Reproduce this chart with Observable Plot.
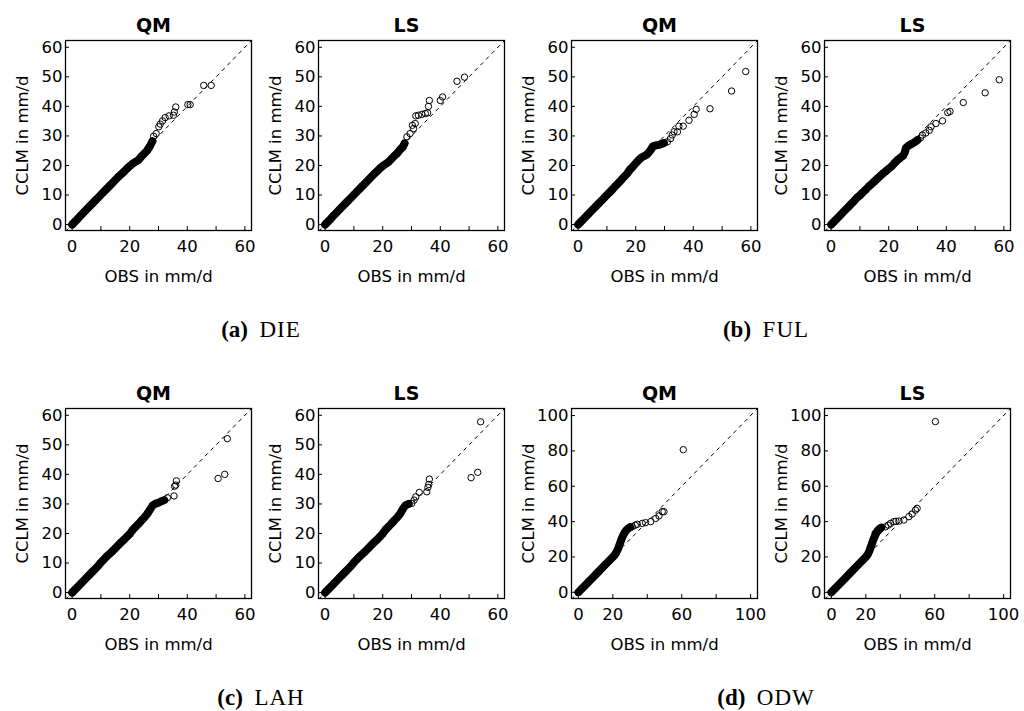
<!DOCTYPE html>
<html>
<head>
<meta charset="utf-8">
<script src="https://cdn.jsdelivr.net/npm/d3@7"></script>
<script src="https://cdn.jsdelivr.net/npm/@observablehq/plot@0.6"></script>
<style>
  html, body { margin: 0; padding: 0; background: #fff; }
  #root { position: relative; width: 1024px; height: 711px; overflow: hidden; }
  .panel { position: absolute; }
  .caption { position: absolute; font-family: "Liberation Serif", serif; font-size: 23px; color: #000;
             transform: translateX(-50%); white-space: nowrap; line-height: 1; }
  .caption b { font-weight: bold; }
  .caption span { letter-spacing: 1px; }
</style>
</head>
<body>
<div id="root"></div>
<script>
// ---------------- data ----------------
const stations = ["DIE", "FUL", "LAH", "ODW"];
const captionLetters = ["(a)", "(b)", "(c)", "(d)"];
const methods = ["QM", "LS"];
const xLabel = "OBS in mm/d";
const yLabel = "CCLM in mm/d";

// axis ranges / ticks per station
const stationScale = [60, 60, 60, 100];
const ticks60 = [0, 10, 20, 30, 40, 50, 60];
const xTickLabels60 = [0, 20, 40, 60];
const ticks100 = [0, 20, 40, 60, 80, 100];
const xTickLabels100 = [0, 20, 60, 100];
const xLimits60 = [-2.3, 62.3];
const yLimits60 = [-2.0, 62.3];
const xLimits100 = [-4, 104];
const yLimits100 = [-3.5, 104];

// quantile pairs (OBS, CCLM) for each station / method
const DIE_QM_obs  = [0,1,2,3,4,5,6,7,8,9,10,11,12,13,14,15,16,17,18,19,20,21,22,23,24,25,26,27,27.9,
                     28.3,29.2,30.1,30.6,31.4,32.3,33.7,35.2,35.5,36.0,40.2,41.0,45.7,48.3];
const DIE_QM_cclm = [0,1,2,3.1,4.1,5.1,6.1,7.1,8.1,9.1,10.1,11.1,12.1,13.1,14.1,15.1,16.1,17.0,17.9,18.9,19.8,20.6,21.2,21.8,23.0,24.0,25.0,26.5,28.2,
                     29.9,30.8,33.1,34.0,35.1,36.2,36.8,37.0,38.1,39.8,40.6,40.6,47.1,47.1];

const DIE_LS_obs  = [0,1,2,3,4,5,6,7,8,9,10,11,12,13,14,15,16,17,18,19,20,21,22,23,24,25,26,27,27.6,
                     28.4,29.5,30.3,30.7,31.3,31.5,32.4,33.6,34.8,35.6,35.9,36.2,40.0,40.8,45.8,48.4];
const DIE_LS_cclm = [0,1,2,3.1,4.1,5.1,6.1,7.1,8.1,9.1,10.1,11.1,12.1,13.1,14.1,15.1,16.1,17.1,18.0,19.0,19.8,20.5,21.2,22.2,23.2,24.1,25.3,26.3,27.5,
                     29.7,30.8,33.6,32.5,34.2,36.8,37.0,37.3,37.6,37.8,40.0,42.0,42.0,43.2,48.5,49.9];

const FUL_QM_obs  = [0,1,2,3,4,5,6,7,8,9,10,11,12,13,14,15,16,17,18,19,20,21,22,23,24,25,26,27,28,29,29.8,
                     31.0,32.1,32.7,33.3,34.5,35.0,36.5,38.5,40.3,41.0,45.8,53.3,58.2];
const FUL_QM_cclm = [0,1,2,3,4,5,6,7,8,9,10.0,11.0,12.0,13.1,14.1,15.1,16.2,17.2,18.6,19.6,20.7,21.8,22.7,23.2,23.8,25.0,26.5,26.8,27.0,27.3,27.6,
                     28.0,29.1,30.3,31.4,31.4,33.3,33.3,35.3,37.3,39.0,39.2,45.2,51.8];

const FUL_LS_obs  = [0,1,2,3,4,5,6,7,8,9,10,11,12,13,14,15,16,17,18,19,20,21,22,23,24,25,25.6,26,27,28,29,30,
                     31.0,31.7,32.9,34.1,34.7,36.4,38.7,40.5,41.3,45.9,53.5,58.4];
const FUL_LS_cclm = [0,1,2,3,4,5,6,7,8,9.1,9.9,10.9,11.8,12.8,13.7,14.6,15.5,16.4,17.3,18.1,18.9,19.7,20.8,21.8,22.6,23.3,24.5,26.0,26.8,27.3,27.9,28.6,
                     29.3,30.3,31.0,31.9,33.1,34.2,35.1,37.9,38.3,41.3,44.6,49.0];

const LAH_QM_obs  = [0,1,2,3,4,5,6,7,8,9,10,11,12,13,14,15,16,17,18,19,20,21,22,23,24,25,26,27,28,29,30,31,32,
                     33.1,35.4,35.6,36.0,36.2,50.7,53.0,53.9];
const LAH_QM_cclm = [0,1,2,3,4,5,6,7,8,9,10.2,11.2,12.2,13.1,14.0,15.0,16.0,17.0,17.9,18.9,19.8,21.2,22.2,23.2,24.3,25.3,26.5,28.0,29.5,30.1,30.4,30.9,31.3,
                     32.1,32.7,36.0,36.4,37.8,38.6,40.0,52.1];

const LAH_LS_obs  = [0,1,2,3,4,5,6,7,8,9,10,11,12,13,14,15,16,17,18,19,20,21,22,23,24,25,26,27,28,29,
                     30.1,30.9,31.5,32.7,35.3,35.7,36.0,36.2,50.7,53.0,54.0];
const LAH_LS_cclm = [0,1,2,3,4,5,6,7,8,9,10.2,11.2,12.2,13.1,14.0,15.0,16.0,17.0,17.9,18.9,19.9,21.3,22.3,23.3,24.4,25.4,26.6,28.3,29.6,30.0,
                     30.2,31.3,32.4,33.9,34.1,35.6,36.6,38.4,38.9,40.7,57.8];

const ODW_QM_obs  = [0,2,4,6,8,10,12,14,16,18,20,21,22,23,24,25,26,27,28,29,30,
                     31.3,33.0,34.2,37.1,39.0,42.0,44.9,46.8,48.7,49.7,60.9];
const ODW_QM_cclm = [0,2,4,6,8,10,12,14,16,18,20,21,22.5,24.5,27.3,30.0,32.3,34.0,35.3,36.2,36.8,
                     37.1,38.0,38.5,39.0,39.4,40.0,41.8,43.2,45.6,45.6,80.7];

const ODW_LS_obs  = [0,2,4,6,8,10,12,14,16,18,20,21,22,23,24,25,26,27,28,29,
                     25.7,31.5,33.0,34.4,36.3,37.5,39.2,42.1,45.0,46.9,48.8,49.8,60.4];
const ODW_LS_cclm = [0,2,4,6,8,10,12,14,16,18,20,21.2,23.3,26.0,28.8,31.3,33.4,35.0,36.0,36.6,
                     33.4,37.1,38.0,39.0,40.0,40.2,40.3,40.9,42.8,44.3,46.5,47.5,96.6];

// upper OBS value of the densely packed quantiles in each panel
const denseLimit = {
  DIE_QM: 27.9, DIE_LS: 27.6, FUL_QM: 29.8, FUL_LS: 30,
  LAH_QM: 32, LAH_LS: 29, ODW_QM: 30, ODW_LS: 29
};

const series = {
  DIE_QM: [DIE_QM_obs, DIE_QM_cclm], DIE_LS: [DIE_LS_obs, DIE_LS_cclm],
  FUL_QM: [FUL_QM_obs, FUL_QM_cclm], FUL_LS: [FUL_LS_obs, FUL_LS_cclm],
  LAH_QM: [LAH_QM_obs, LAH_QM_cclm], LAH_LS: [LAH_LS_obs, LAH_LS_cclm],
  ODW_QM: [ODW_QM_obs, ODW_QM_cclm], ODW_LS: [ODW_LS_obs, ODW_LS_cclm]
};

// ---------------- drawing ----------------
const root = document.getElementById("root");
const PANEL_W = 253, ROW_H = 368;
const ML = 65, MR = 2, MT = 40, FRAME_H = 190, MB = 60;

function drawPanel(station, si, method, mi) {
  const key = station + "_" + method;
  const [obs, cclm] = series[key];
  const pts = obs.map((o, i) => ({obs: o, cclm: cclm[i]}));
  const dense = pts.filter(d => d.obs <= denseLimit[key]);
  const big = stationScale[si] === 100;
  const xd = big ? xLimits100 : xLimits60;
  const yd = big ? yLimits100 : yLimits60;
  const xt = big ? ticks100 : ticks60;
  const yt = big ? ticks100 : ticks60;
  const xl = big ? xTickLabels100 : xTickLabels60;
  const frameW = PANEL_W - ML - MR;

  const chart = Plot.plot({
    width: PANEL_W,
    height: MT + FRAME_H + MB,
    marginLeft: ML, marginRight: MR, marginTop: MT, marginBottom: MB,
    style: {fontFamily: "'DejaVu Sans', sans-serif", fontSize: "16.5px", color: "#000", background: "transparent", overflow: "visible"},
    x: {domain: xd},
    y: {domain: yd},
    marks: [
      Plot.link([{a: Math.min(xd[0], yd[0]), b: Math.max(xd[1], yd[1])}],
        {x1: "a", y1: "a", x2: "b", y2: "b", stroke: "#000", strokeWidth: 1, strokeDasharray: "4,4", clip: true}),
      Plot.line(dense, {x: "obs", y: "cclm", stroke: "#000", strokeWidth: 8, strokeLinecap: "round", strokeLinejoin: "round", clip: true}),
      Plot.dot(pts, {x: "obs", y: "cclm", r: 3.2, stroke: "#000", strokeWidth: 1, fill: "none", clip: true}),
      Plot.tickX(xt, {x: d => d, stroke: "#000", strokeWidth: 1, insetTop: FRAME_H - 4}),
      Plot.tickY(yt, {y: d => d, stroke: "#000", strokeWidth: 1, insetRight: frameW - 4}),
      Plot.frame({stroke: "#000", strokeWidth: 1.3}),
      Plot.axisX(xl, {tickSize: 0, tickPadding: 10, label: null}),
      Plot.axisY(yt, {tickSize: 0, tickPadding: 3, label: null}),
      Plot.text([method], {text: d => d, frameAnchor: "top", lineAnchor: "middle", textAnchor: "middle", dy: -15, dx: -5, fontWeight: "bold", fontSize: 19}),
      Plot.text([xLabel], {text: d => d, frameAnchor: "bottom", lineAnchor: "middle", textAnchor: "middle", dy: 46}),
      Plot.text([yLabel], {text: d => d, frameAnchor: "left", lineAnchor: "middle", textAnchor: "middle", dx: -43, rotate: -90})
    ]
  });

  const col = si % 2 * 2 + mi;
  const row = Math.floor(si / 2);
  const wrap = document.createElement("div");
  wrap.className = "panel";
  wrap.style.left = (col * PANEL_W) + "px";
  wrap.style.top = (row * ROW_H) + "px";
  wrap.appendChild(chart);
  root.appendChild(wrap);
}

stations.forEach((s, si) => methods.forEach((m, mi) => drawPanel(s, si, m, mi)));

// captions
const captionCenters = [261, 766];
const captionBaselineTop = 318;
stations.forEach((s, si) => {
  const div = document.createElement("div");
  div.className = "caption";
  div.style.left = captionCenters[si % 2] + "px";
  div.style.top = (captionBaselineTop + Math.floor(si / 2) * ROW_H) + "px";
  div.innerHTML = "<b>" + captionLetters[si] + "</b>&nbsp;&nbsp;<span>" + s + "</span>";
  root.appendChild(div);
});
</script>
</body>
</html>
